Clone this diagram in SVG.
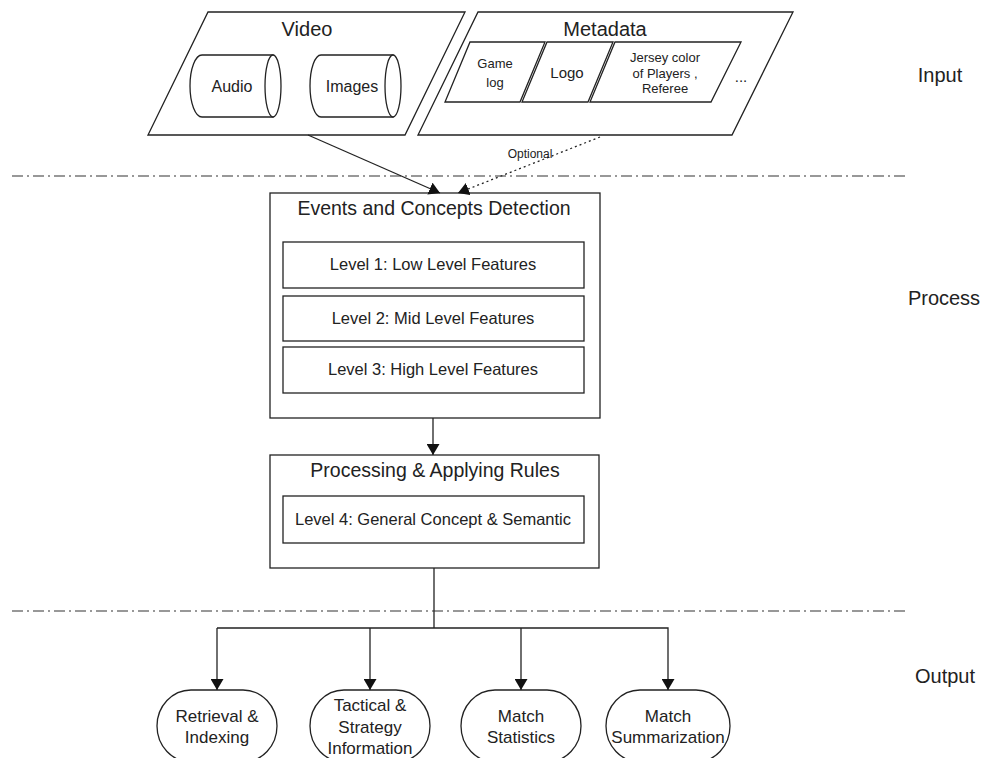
<svg xmlns="http://www.w3.org/2000/svg" width="994" height="758" viewBox="0 0 994 758">
<defs>
<style>
.s{fill:#fff;stroke:#222;stroke-width:1.3}
.l{fill:none;stroke:#222;stroke-width:1.3}
.t{font-family:"Liberation Sans",Arial,sans-serif;fill:#222;text-anchor:middle}
.sep{fill:none;stroke:#333;stroke-width:1.2;stroke-dasharray:11 4 2 4}
.lab{font-family:"Liberation Sans",Arial,sans-serif;fill:#222;font-size:20px;text-anchor:middle}
</style>
<marker id="ah" markerWidth="11" markerHeight="13" refX="11" refY="6.5" orient="auto" markerUnits="userSpaceOnUse">
<path d="M0,0 L11,6.5 L0,13 z" fill="#111"/>
</marker>
</defs>
<rect width="994" height="758" fill="#fff"/>

<g id="separators">
<line class="sep" x1="12" y1="176" x2="905" y2="176"/>
<line class="sep" x1="12" y1="611" x2="908" y2="611"/>
</g>
<g id="section-labels">
<text class="lab" x="940" y="82">Input</text>
<text class="lab" x="944" y="305">Process</text>
<text class="lab" x="945" y="683">Output</text>
</g>

<g id="video">
<polygon class="s" points="208,12 465,12 405,135 148,135"/>
<text class="t" x="307" y="36" font-size="20">Video</text>
<g id="audio">
<path class="s" d="M202,55 L273,55 L273,117 L202,117 A12,31 0 0 1 202,55 Z"/>
<ellipse class="s" cx="273" cy="86" rx="8" ry="31"/>
<text class="t" x="232" y="92" font-size="16">Audio</text>
</g>
<g id="images">
<path class="s" d="M321,55 L393,55 L393,117 L321,117 A11,31 0 0 1 321,55 Z"/>
<ellipse class="s" cx="393" cy="86" rx="8" ry="31"/>
<text class="t" x="352" y="92" font-size="16">Images</text>
</g>
</g>

<g id="metadata">
<polygon class="s" points="478,12 793,12 732,135 418,135"/>
<text class="t" x="605" y="36" font-size="20">Metadata</text>
<g id="gamelog">
<polygon class="s" points="470,42 545,42 520,102 445,102"/>
<text class="t" x="495" y="68" font-size="13">Game</text>
<text class="t" x="495" y="87" font-size="13">log</text>
</g>
<g id="logo">
<polygon class="s" points="547,42 613,42 588,102 522,102"/>
<text class="t" x="567" y="78" font-size="15">Logo</text>
</g>
<g id="jersey">
<polygon class="s" points="615,42 741,42 711,102 590,102"/>
<text class="t" x="665" y="62" font-size="13">Jersey color</text>
<text class="t" x="665" y="78" font-size="13">of Players ,</text>
<text class="t" x="665" y="93" font-size="13">Referee</text>
</g>
<text class="t" x="741" y="82" font-size="15">...</text>
</g>

<g id="events">
<rect class="s" x="270" y="193" width="330" height="225"/>
<text class="t" x="434" y="215" font-size="19.5">Events and Concepts Detection</text>
<g id="level1">
<rect class="s" x="283" y="242" width="301" height="46"/>
<text class="t" x="433" y="270" font-size="16.5">Level 1: Low Level Features</text>
</g>
<g id="level2">
<rect class="s" x="283" y="296" width="301" height="45"/>
<text class="t" x="433" y="324" font-size="16.5">Level 2: Mid Level Features</text>
</g>
<g id="level3">
<rect class="s" x="283" y="347" width="301" height="46"/>
<text class="t" x="433" y="375" font-size="16.5">Level 3: High Level Features</text>
</g>
</g>

<g id="processing">
<rect class="s" x="270" y="455" width="329" height="113"/>
<text class="t" x="435" y="477" font-size="19.5">Processing &amp; Applying Rules</text>
<g id="level4">
<rect class="s" x="283" y="496" width="301" height="47"/>
<text class="t" x="433" y="525" font-size="16.5">Level 4: General Concept &amp; Semantic</text>
</g>
</g>

<g id="out-retrieval">
<rect class="s" x="157" y="690" width="120" height="72" rx="34" ry="36"/>
<text class="t" x="217" y="722" font-size="17">Retrieval &amp;</text>
<text class="t" x="217" y="743" font-size="17">Indexing</text>
</g>
<g id="out-tactical">
<rect class="s" x="310" y="690" width="120" height="72" rx="34" ry="36"/>
<text class="t" x="370" y="711" font-size="17">Tactical &amp;</text>
<text class="t" x="370" y="733" font-size="17">Strategy</text>
<text class="t" x="370" y="754" font-size="17">Information</text>
</g>
<g id="out-stats">
<rect class="s" x="461" y="690" width="120" height="72" rx="34" ry="36"/>
<text class="t" x="521" y="722" font-size="17">Match</text>
<text class="t" x="521" y="743" font-size="17">Statistics</text>
</g>
<g id="out-summ">
<rect class="s" x="606" y="690" width="124" height="72" rx="34" ry="36"/>
<text class="t" x="668" y="722" font-size="17">Match</text>
<text class="t" x="668" y="743" font-size="17">Summarization</text>
</g>

<g id="connectors">
<line class="l" x1="308" y1="135" x2="440" y2="193" marker-end="url(#ah)"/>
<line class="l" x1="600" y1="137" x2="458" y2="193" stroke-dasharray="2 3" marker-end="url(#ah)"/>
<text class="t" x="530" y="158" font-size="12">Optional</text>
<line class="l" x1="433" y1="418" x2="433" y2="455" marker-end="url(#ah)"/>
<polyline class="l" points="434,568 434,628"/>
<polyline class="l" points="217,628 668,628 668,690" marker-end="url(#ah)"/>
<line class="l" x1="217" y1="628" x2="217" y2="690" marker-end="url(#ah)"/>
<line class="l" x1="370" y1="628" x2="370" y2="690" marker-end="url(#ah)"/>
<line class="l" x1="521" y1="628" x2="521" y2="690" marker-end="url(#ah)"/>
</g>
</svg>
